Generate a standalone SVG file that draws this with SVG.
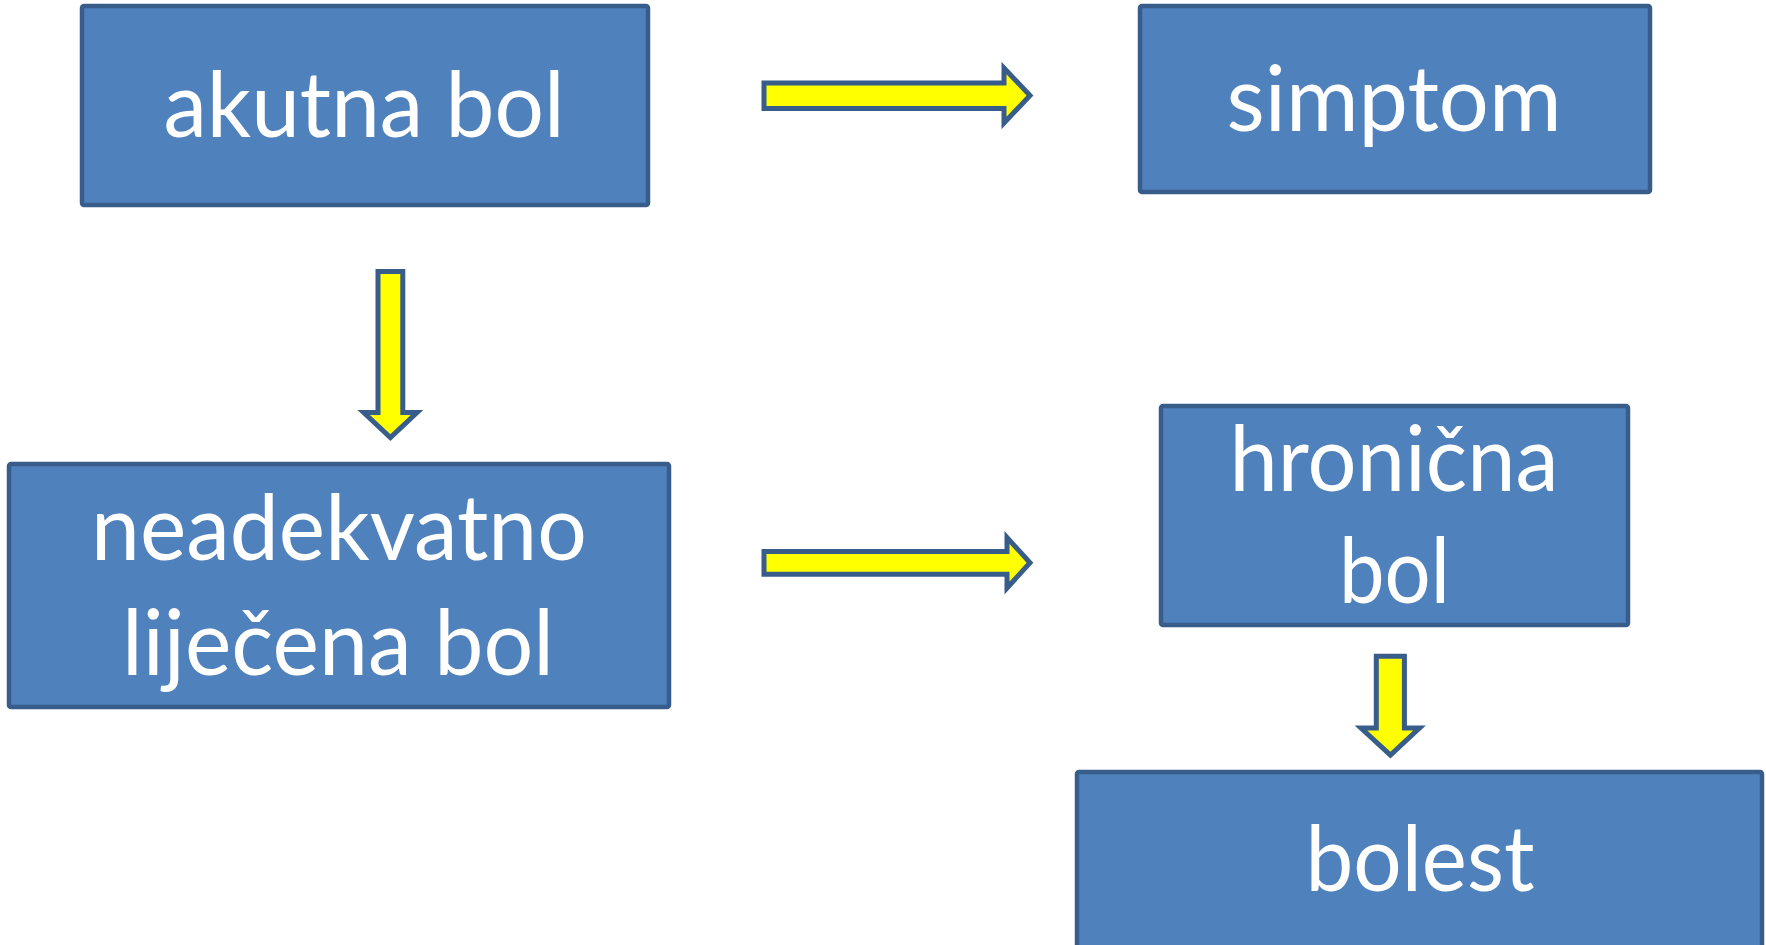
<svg xmlns="http://www.w3.org/2000/svg" width="1766" height="945" viewBox="0 0 1766 945">
<style>
.box{fill:#4F81BD;stroke:#385D8A;stroke-width:4.5}
.lbl{font-family:Lato,"Open Sans","Liberation Sans",sans-serif;font-size:91px;fill:#FFFFFF;text-anchor:middle}
.arr{fill:#FFFF00;stroke:#385D8A;stroke-width:5;stroke-linejoin:miter}
</style>
<rect x="0" y="0" width="1766" height="945" fill="#FFFFFF"/>
<g id="node-akutna">
<rect class="box" x="82" y="6" width="566" height="199" rx="2"/>
<text class="lbl" x="364" y="136.5" textLength="401" lengthAdjust="spacingAndGlyphs">akutna bol</text>
</g>
<g id="node-simptom">
<rect class="box" x="1140" y="6" width="510" height="186" rx="2"/>
<text class="lbl" x="1394" y="130.5" textLength="335" lengthAdjust="spacingAndGlyphs">simptom</text>
</g>
<g id="node-neadekvatno">
<rect class="box" x="9" y="464" width="660" height="243" rx="2"/>
<text class="lbl" x="339" y="559.5" textLength="496" lengthAdjust="spacingAndGlyphs">neadekvatno</text>
<text class="lbl" x="338" y="675" textLength="432" lengthAdjust="spacingAndGlyphs">liječena bol</text>
</g>
<g id="node-hronicna">
<rect class="box" x="1161" y="406" width="467" height="219" rx="2"/>
<text class="lbl" x="1394" y="490.5" textLength="329" lengthAdjust="spacingAndGlyphs">hronična</text>
<text class="lbl" x="1394.5" y="603" textLength="111" lengthAdjust="spacingAndGlyphs">bol</text>
</g>
<g id="node-bolest">
<rect class="box" x="1077" y="772" width="685" height="176" rx="2"/>
<text class="lbl" x="1420" y="890.5" textLength="229" lengthAdjust="spacingAndGlyphs">bolest</text>
</g>
<g id="connectors">
<path class="arr" d="M764,83 L1004,83 L1004,68 L1030,95.5 L1004,123 L1004,108.5 L764,108.5 Z"/>
<path class="arr" d="M764,551.5 L1007,551.5 L1007,537.5 L1030,562.8 L1007,588 L1007,574.3 L764,574.3 Z"/>
<path class="arr" d="M378,271.5 H402.8 V412.5 H417 L390.4,437.5 L363.7,412.5 H378 Z"/>
<path class="arr" d="M1376.3,656.3 H1404.4 V728 H1419.5 L1390.4,755 L1361,728 H1376.3 Z"/>
</g>
</svg>
